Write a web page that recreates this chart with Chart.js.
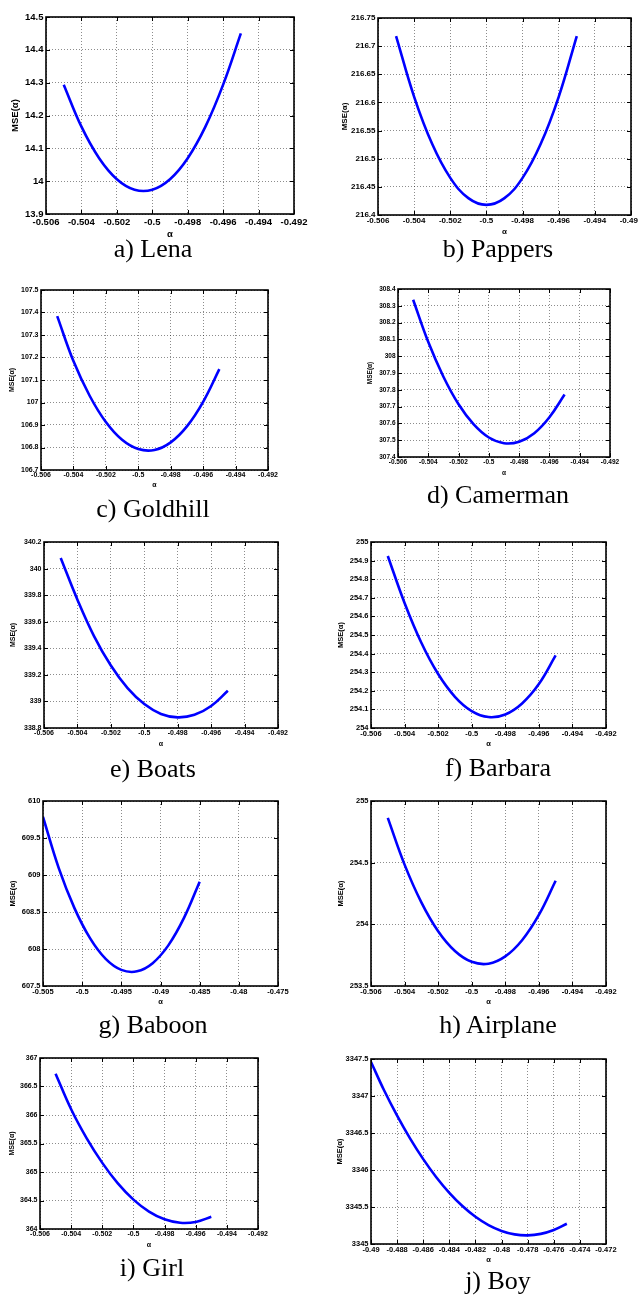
<!DOCTYPE html>
<html><head><meta charset="utf-8">
<script src="https://cdn.jsdelivr.net/npm/chart.js@4.4.1/dist/chart.umd.min.js"></script>
<style>
html,body{margin:0;padding:0;background:#fff;}
body{width:638px;height:1299px;position:relative;overflow:hidden;}
canvas{position:absolute;}
.cap{position:absolute;width:300px;text-align:center;font-family:"Liberation Serif","Times New Roman",serif;font-size:26px;line-height:26px;color:#000;white-space:nowrap;}
</style></head><body>
<script>
// ---------------- DATA ----------------
const captions = ['a) Lena','b) Pappers','c) Goldhill','d) Camerman','e) Boats','f) Barbara','g) Baboon','h) Airplane','i) Girl','j) Boy'];

const alphaStd    = [-0.505,-0.504,-0.503,-0.502,-0.501,-0.500,-0.499,-0.498,-0.497,-0.496,-0.495];
const alphaBaboon = [-0.505,-0.503,-0.501,-0.499,-0.497,-0.495,-0.493,-0.491,-0.489,-0.487,-0.485];
const alphaBoy    = [-0.490,-0.489,-0.488,-0.487,-0.486,-0.485,-0.484,-0.483,-0.482,-0.481,-0.480,-0.479,-0.478,-0.477,-0.476,-0.475];

const mseLena     = [14.294,14.166,14.070,14.006,13.974,13.974,14.006,14.070,14.166,14.294,14.450];
const msePappers  = [216.718,216.610,216.526,216.466,216.430,216.418,216.430,216.466,216.526,216.610,216.718];
const mseGoldhill = [107.384,107.184,107.030,106.913,106.834,106.793,106.789,106.823,106.894,107.003,107.148];
const mseCamerman = [308.336,308.084,307.878,307.714,307.594,307.516,307.482,307.491,307.542,307.637,307.772];
const mseBoats    = [340.080,339.766,339.490,339.270,339.100,338.980,338.906,338.880,338.899,338.966,339.080];
const mseBarbara  = [254.925,254.672,254.458,254.290,254.168,254.091,254.059,254.073,254.132,254.236,254.390];
const mseBaboon   = [609.785,609.096,608.556,608.147,607.867,607.718,607.698,607.809,608.049,608.420,608.910];
const mseAirplane = [254.863,254.484,254.178,253.944,253.784,253.696,253.681,253.740,253.871,254.076,254.353];
const mseGirl     = [366.725,366.100,365.590,365.160,364.800,364.515,364.306,364.170,364.109,364.124,364.215];
const mseBoy      = [3347.460,3347.077,3346.734,3346.424,3346.147,3345.903,3345.691,3345.513,3345.368,3345.256,3345.177,3345.130,3345.117,3345.137,3345.190,3345.274];

const xTicksStd    = [-0.506,-0.504,-0.502,-0.500,-0.498,-0.496,-0.494,-0.492];
const xTicksBaboon = [-0.505,-0.500,-0.495,-0.490,-0.485,-0.480,-0.475];
const xTicksBoy    = [-0.490,-0.488,-0.486,-0.484,-0.482,-0.480,-0.478,-0.476,-0.474,-0.472];

const yTicksLena     = [13.9,14.0,14.1,14.2,14.3,14.4,14.5];
const yTicksPappers  = [216.4,216.45,216.5,216.55,216.6,216.65,216.7,216.75];
const yTicksGoldhill = [106.7,106.8,106.9,107.0,107.1,107.2,107.3,107.4,107.5];
const yTicksCamerman = [307.4,307.5,307.6,307.7,307.8,307.9,308.0,308.1,308.2,308.3,308.4];
const yTicksBoats    = [338.8,339.0,339.2,339.4,339.6,339.8,340.0,340.2];
const yTicksBarbara  = [254.0,254.1,254.2,254.3,254.4,254.5,254.6,254.7,254.8,254.9,255.0];
const yTicksBaboon   = [607.5,608.0,608.5,609.0,609.5,610.0];
const yTicksAirplane = [253.5,254.0,254.5,255.0];
const yTicksGirl     = [364.0,364.5,365.0,365.5,366.0,366.5,367.0];
const yTicksBoy      = [3345.0,3345.5,3346.0,3346.5,3347.0,3347.5];

const xTitle = 'α';
const yTitle = 'MSE(α)';

// ---------------- LAYOUT (positions / sizes only) ----------------
const panels = [
  {l:46, t:17,  r:294, b:214,  fs:9.5, yt:31, xt:20, xp:2.5, capX:153, capB:258, a:alphaStd,    m:mseLena,     xk:xTicksStd,    yk:yTicksLena},
  {l:378,t:18,  r:631, b:215,  fs:8,   yt:33, xt:17, xp:1,   capX:498, capB:258, a:alphaStd,    m:msePappers,  xk:xTicksStd,    yk:yTicksPappers},
  {l:41, t:290, r:268, b:470,  fs:7,   yt:29, xt:15, xp:1,   capX:153, capB:518, a:alphaStd,    m:mseGoldhill, xk:xTicksStd,    yk:yTicksGoldhill},
  {l:398,t:289, r:610, b:457,  fs:6.5, yt:28, xt:16, xp:1,   capX:498, capB:504, a:alphaStd,    m:mseCamerman, xk:xTicksStd,    yk:yTicksCamerman},
  {l:44, t:542, r:278, b:728,  fs:7,   yt:31, xt:16, xp:1,   capX:153, capB:778, a:alphaStd,    m:mseBoats,    xk:xTicksStd,    yk:yTicksBoats},
  {l:371,t:542, r:606, b:728,  fs:7.5, yt:30, xt:16, xp:1,   capX:498, capB:777, a:alphaStd,    m:mseBarbara,  xk:xTicksStd,    yk:yTicksBarbara},
  {l:43, t:801, r:278, b:986,  fs:7.5, yt:30, xt:16, xp:1,   capX:153, capB:1034,a:alphaBaboon, m:mseBaboon,   xk:xTicksBaboon, yk:yTicksBaboon},
  {l:371,t:801, r:606, b:986,  fs:7.5, yt:30, xt:16, xp:1,   capX:498, capB:1034,a:alphaStd,    m:mseAirplane, xk:xTicksStd,    yk:yTicksAirplane},
  {l:40, t:1058,r:258, b:1229, fs:7,   yt:28, xt:16, xp:1,   capX:152, capB:1277,a:alphaStd,    m:mseGirl,     xk:xTicksStd,    yk:yTicksGirl},
  {l:371,t:1059,r:606, b:1244, fs:7.5, yt:31, xt:16, xp:1,   capX:498, capB:1290,a:alphaBoy,    m:mseBoy,      xk:xTicksBoy,    yk:yTicksBoy}
];

const fmt = v => String(parseFloat(Number(v).toFixed(4)));

const framePlugin = {
  id: 'frame',
  afterDatasetsDraw(chart) {
    const {ctx, chartArea: a, scales: {x, y}} = chart;
    ctx.save();
    ctx.strokeStyle = '#000';
    ctx.lineWidth = 1;
    const L = 4;
    ctx.beginPath();
    x.ticks.forEach(t => {
      const px = Math.round(x.getPixelForValue(t.value)) + 0.5;
      ctx.moveTo(px, a.bottom); ctx.lineTo(px, a.bottom - L);
      ctx.moveTo(px, a.top); ctx.lineTo(px, a.top + L);
    });
    y.ticks.forEach(t => {
      const py = Math.round(y.getPixelForValue(t.value)) + 0.5;
      ctx.moveTo(a.left, py); ctx.lineTo(a.left + L, py);
      ctx.moveTo(a.right, py); ctx.lineTo(a.right - L, py);
    });
    ctx.stroke();
    ctx.lineWidth = 1.6;
    ctx.strokeRect(a.left, a.top, a.right - a.left, a.bottom - a.top);
    ctx.restore();
  }
};

const LW = 50, TP = 10, RP = 22, BH = 32;

panels.forEach((p, i) => {
  const W = p.r - p.l + LW + RP, H = p.b - p.t + TP + BH;
  const cv = document.createElement('canvas');
  cv.width = W; cv.height = H;
  cv.style.left = (p.l - LW) + 'px'; cv.style.top = (p.t - TP) + 'px';
  cv.style.width = W + 'px'; cv.style.height = H + 'px';
  document.body.appendChild(cv);

  const cap = document.createElement('div');
  cap.className = 'cap';
  cap.textContent = captions[i];
  cap.style.left = (p.capX - 150) + 'px';
  cap.style.top = (p.capB - 21.8) + 'px';
  document.body.appendChild(cap);

  const font = {family: '"Liberation Sans", Arial, Helvetica, sans-serif', size: p.fs, weight: 'bold', lineHeight: 1.2};
  const lh = p.fs * 1.2;
  const gridColor = 'rgba(0,0,0,0.45)';

  new Chart(cv, {
    type: 'line',
    data: {
      datasets: [{
        data: p.a.map((v, k) => ({x: v, y: p.m[k]})),
        borderColor: '#0000ff',
        borderWidth: 2.6,
        pointRadius: 0,
        tension: 0.4,
        fill: false
      }]
    },
    options: {
      responsive: false, animation: false, devicePixelRatio: 1,
      layout: {padding: {left: 0, top: TP, right: RP, bottom: 0}},
      plugins: {legend: {display: false}, tooltip: {enabled: false}, title: {display: false}},
      scales: {
        x: {
          type: 'linear', min: p.xk[0], max: p.xk[p.xk.length - 1],
          afterBuildTicks: s => { s.ticks = p.xk.map(v => ({value: v})); },
          afterFit: s => { s.height = BH; },
          grid: {drawTicks: false, color: gridColor, lineWidth: 1},
          border: {display: false, dash: [1, 2]},
          ticks: {autoSkip: false, maxRotation: 0, minRotation: 0, padding: p.xp, color: '#000', font: font, callback: v => fmt(v)},
          title: {display: true, text: xTitle, color: '#000', font: font, padding: {top: 0, bottom: BH - p.xt - lh / 2}}
        },
        y: {
          type: 'linear', min: p.yk[0], max: p.yk[p.yk.length - 1],
          afterBuildTicks: s => { s.ticks = p.yk.map(v => ({value: v})); },
          afterFit: s => { s.width = LW; },
          grid: {drawTicks: false, color: gridColor, lineWidth: 1},
          border: {display: false, dash: [1, 2]},
          ticks: {autoSkip: false, padding: 2.5, color: '#000', font: font, callback: v => fmt(v)},
          title: {display: true, text: yTitle, color: '#000', font: font, padding: {top: LW - p.yt - lh / 2, bottom: 0}}
        }
      }
    },
    plugins: [framePlugin]
  });
});
</script>
</body></html>
